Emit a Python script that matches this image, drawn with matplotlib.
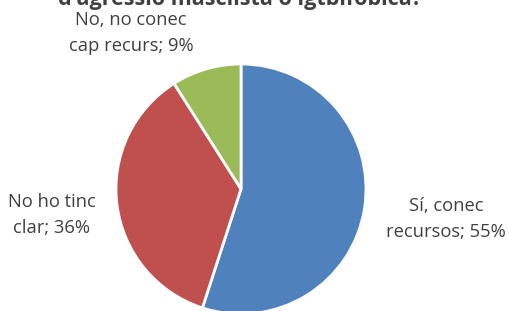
import matplotlib.pyplot as plt

# slice values (percent), clockwise from 12 o'clock
categories = ["Sí, conec\nrecursos; 55%", "No ho tinc\nclar; 36%", "No, no conec\ncap recurs; 9%"]
values = [55, 36, 9]
colors = ["#4F81BD", "#C0504D", "#9BBB59"]

plt.rcParams["font.family"] = ["Open Sans", "DejaVu Sans"]

fig = plt.figure(figsize=(5.10, 3.11), dpi=100)
ax = fig.add_axes([0, 0, 1, 1])
ax.axis("off")

ax.pie(values, colors=colors, startangle=90, counterclock=False,
       center=(241, 122), radius=125,
       wedgeprops=dict(edgecolor="white", linewidth=2))
ax.set_xlim(0, 510)
ax.set_ylim(0, 311)
ax.set_aspect("equal")

label_pos = [(446, 92), (52, 96), (131, 278)]
for text, (x, y) in zip(categories, label_pos):
    ax.text(x, y, text, ha="center", va="center", fontsize=13.2,
            color="#404040", linespacing=1.55)

# title, cut off at the top edge as in the original
ax.text(240, 311, "d'agressió masclista o lgtbifòbica?", ha="center", va="center",
        fontsize=15.5, fontweight="bold", color="#404040")

fig.savefig("out.png", dpi=100)
